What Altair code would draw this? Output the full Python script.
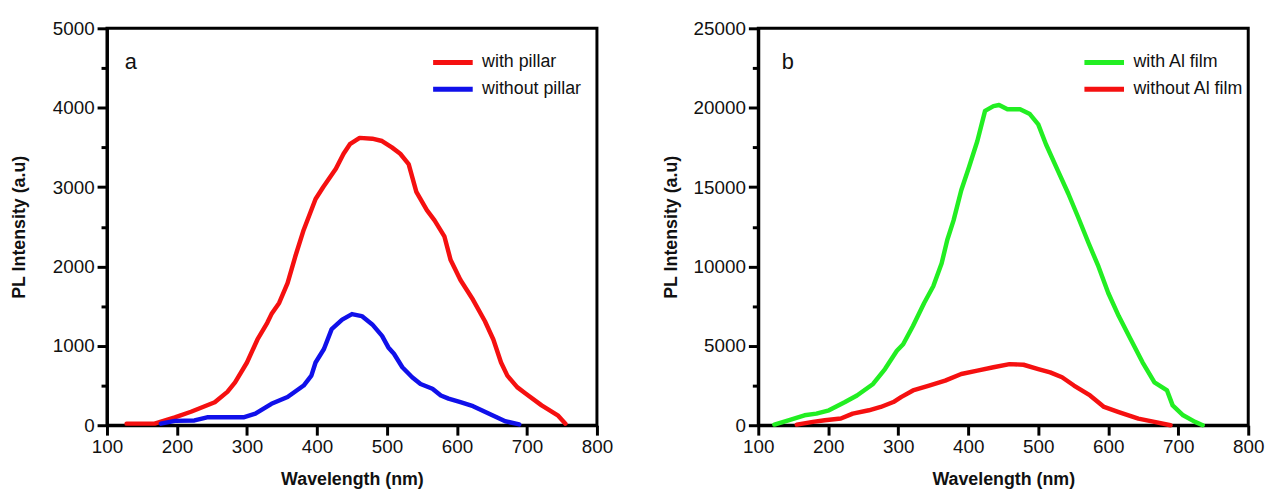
import altair as alt
import pandas as pd

# ---------------- data ----------------
# Panel a
wl_a_with = [128, 168, 197, 220, 254, 272, 283, 300, 315, 329, 335, 346, 358, 369, 381, 398,
             409, 427, 438, 447, 461, 479, 493, 507, 519, 531, 542, 557, 568, 582, 591, 605,
             623, 640, 652, 663, 672, 686, 698, 721, 744, 755]
int_a_with = [20, 20, 100, 170, 290, 420, 540, 790, 1080, 1290, 1400, 1540, 1790, 2125, 2460, 2850,
              3000, 3230, 3420, 3540, 3620, 3610, 3580, 3500, 3420, 3290, 2940, 2710, 2580, 2380, 2080, 1830,
              1580, 1310, 1080, 790, 625, 480, 400, 250, 125, 20]
wl_a_without = [177, 197, 225, 243, 295, 312, 335, 358, 381, 392, 398, 410, 421, 436, 450, 464,
                479, 493, 502, 510, 522, 536, 548, 565, 577, 588, 605, 623, 646, 669, 689]
int_a_without = [20, 55, 60, 100, 100, 145, 270, 355, 500, 625, 790, 960, 1210, 1330, 1400, 1375,
                 1270, 1125, 980, 900, 730, 605, 520, 460, 375, 335, 290, 240, 145, 50, 10]

# Panel b
wl_b_with = [123, 143, 166, 183, 201, 224, 241, 264, 281, 298, 307, 321, 337, 350, 362, 370,
             379, 390, 401, 413, 424, 436, 444, 456, 474, 488, 500, 511, 528, 543, 557, 572,
             586, 600, 615, 632, 649, 666, 684, 692, 707, 724, 735]
int_b_with = [40, 310, 625, 730, 940, 1460, 1875, 2600, 3540, 4690, 5100, 6250, 7700, 8750, 10200, 11670,
              12900, 14800, 16250, 17900, 19800, 20100, 20170, 19900, 19900, 19600, 18950, 17700, 16040, 14580, 13100, 11460,
              10000, 8330, 6875, 5420, 3960, 2700, 2190, 1250, 625, 210, 0]
wl_b_without = [155, 178, 195, 218, 235, 258, 275, 293, 304, 321, 344, 367, 390, 413, 436, 459,
                479, 500, 517, 534, 551, 574, 594, 615, 643, 666, 689]
int_b_without = [40, 210, 310, 420, 730, 940, 1150, 1460, 1770, 2190, 2500, 2810, 3230, 3440, 3650, 3850,
                 3810, 3540, 3330, 3020, 2500, 1875, 1150, 830, 420, 210, 0]

series_a = ["with pillar", "without pillar"]
series_b = ["with Al film", "without Al film"]
colors_a = ["#f51010", "#1010ea"]
colors_b = ["#22ee22", "#f51010"]

x_ticks = [100, 150, 200, 250, 300, 350, 400, 450, 500, 550, 600, 650, 700, 750, 800]
y_ticks_a = [0, 500, 1000, 1500, 2000, 2500, 3000, 3500, 4000, 4500, 5000]
y_ticks_b = [0, 2500, 5000, 7500, 10000, 12500, 15000, 17500, 20000, 22500, 25000]

panel_labels = ["a", "b"]
label_pos_x = [134, 142]
label_pos_y = [4580, 22850]

FONT = "Liberation Sans"
W, H = 495, 401


def frame(wls, vals, name):
    return pd.DataFrame({"Wavelength": wls, "Intensity": vals, "Series": name,
                         "idx": list(range(len(wls)))})


def axis_common():
    return dict(format="d", labelFlush=False, labelOverlap=False,
                tickWidth=3, tickColor="black", domainWidth=3, domainColor="black",
                labelFont=FONT, labelFontSize=19, labelColor="#111", labelPadding=3,
                titleFont=FONT, titleFontSize=18, titleFontWeight="bold", titleColor="#111",
                grid=False)


def panel(dfs, names, colors, ymax, yticks, ymajor, label, lx, ly):
    df = pd.concat(dfs, ignore_index=True)
    x_axis = alt.Axis(values=x_ticks,
                      labelExpr="datum.value % 100 === 0 ? datum.label : ''",
                      tickSize={"condition": {"test": "datum.value % 100 !== 0", "value": 6}, "value": 10},
                      title="Wavelength (nm)", titleX=W / 2, titleY=55,
                      titleBaseline="middle", titleAlign="center", **axis_common())
    y_axis = alt.Axis(values=yticks,
                      labelExpr=f"datum.value % {ymajor} === 0 ? datum.label : ''",
                      tickSize={"condition": {"test": f"datum.value % {ymajor} !== 0", "value": 6}, "value": 10},
                      title="PL Intensity (a.u)", titleX=-88, titleY=H / 2,
                      titleAngle=-90, titleBaseline="middle", titleAlign="center", **axis_common())
    lines = alt.Chart(df).mark_line(strokeWidth=4.5, strokeJoin="round", strokeCap="round").encode(
        x=alt.X("Wavelength:Q", scale=alt.Scale(domain=[100, 800], nice=False), axis=x_axis),
        y=alt.Y("Intensity:Q", scale=alt.Scale(domain=[0, ymax], nice=False), axis=y_axis),
        color=alt.Color("Series:N", scale=alt.Scale(domain=names, range=colors),
                        sort=names,
                        legend=alt.Legend(orient="none", legendX=327, legendY=21, title=None,
                                          symbolType="stroke", symbolSize=1600, symbolStrokeWidth=5,
                                          labelFont=FONT, labelFontSize=18, labelColor="#111",
                                          labelOffset=7, rowPadding=0, clipHeight=27, padding=0)),
        order="idx:Q",
    )
    txt = alt.Chart(pd.DataFrame({"x": [lx], "y": [ly], "t": [label]})).mark_text(
        font=FONT, fontSize=22, color="#111", align="center", baseline="middle"
    ).encode(x="x:Q", y="y:Q", text="t:N")
    return alt.layer(lines, txt).properties(width=W, height=H)


left = panel([frame(wl_a_with, int_a_with, series_a[0]),
              frame(wl_a_without, int_a_without, series_a[1])],
             series_a, colors_a, 5000, y_ticks_a, 1000,
             panel_labels[0], label_pos_x[0], label_pos_y[0])
right = panel([frame(wl_b_with, int_b_with, series_b[0]),
               frame(wl_b_without, int_b_without, series_b[1])],
              series_b, colors_b, 25000, y_ticks_b, 5000,
              panel_labels[1], label_pos_x[1], label_pos_y[1])

chart = alt.hconcat(left, right, spacing=163, bounds="flush").resolve_scale(
    color="independent"
).resolve_legend(color="independent").properties(
    padding={"left": 1, "top": 7, "right": 5, "bottom": 5}
).configure_view(
    stroke="black", strokeWidth=3
)

chart.save("out.html", embed_options={"renderer": "svg", "actions": False})
